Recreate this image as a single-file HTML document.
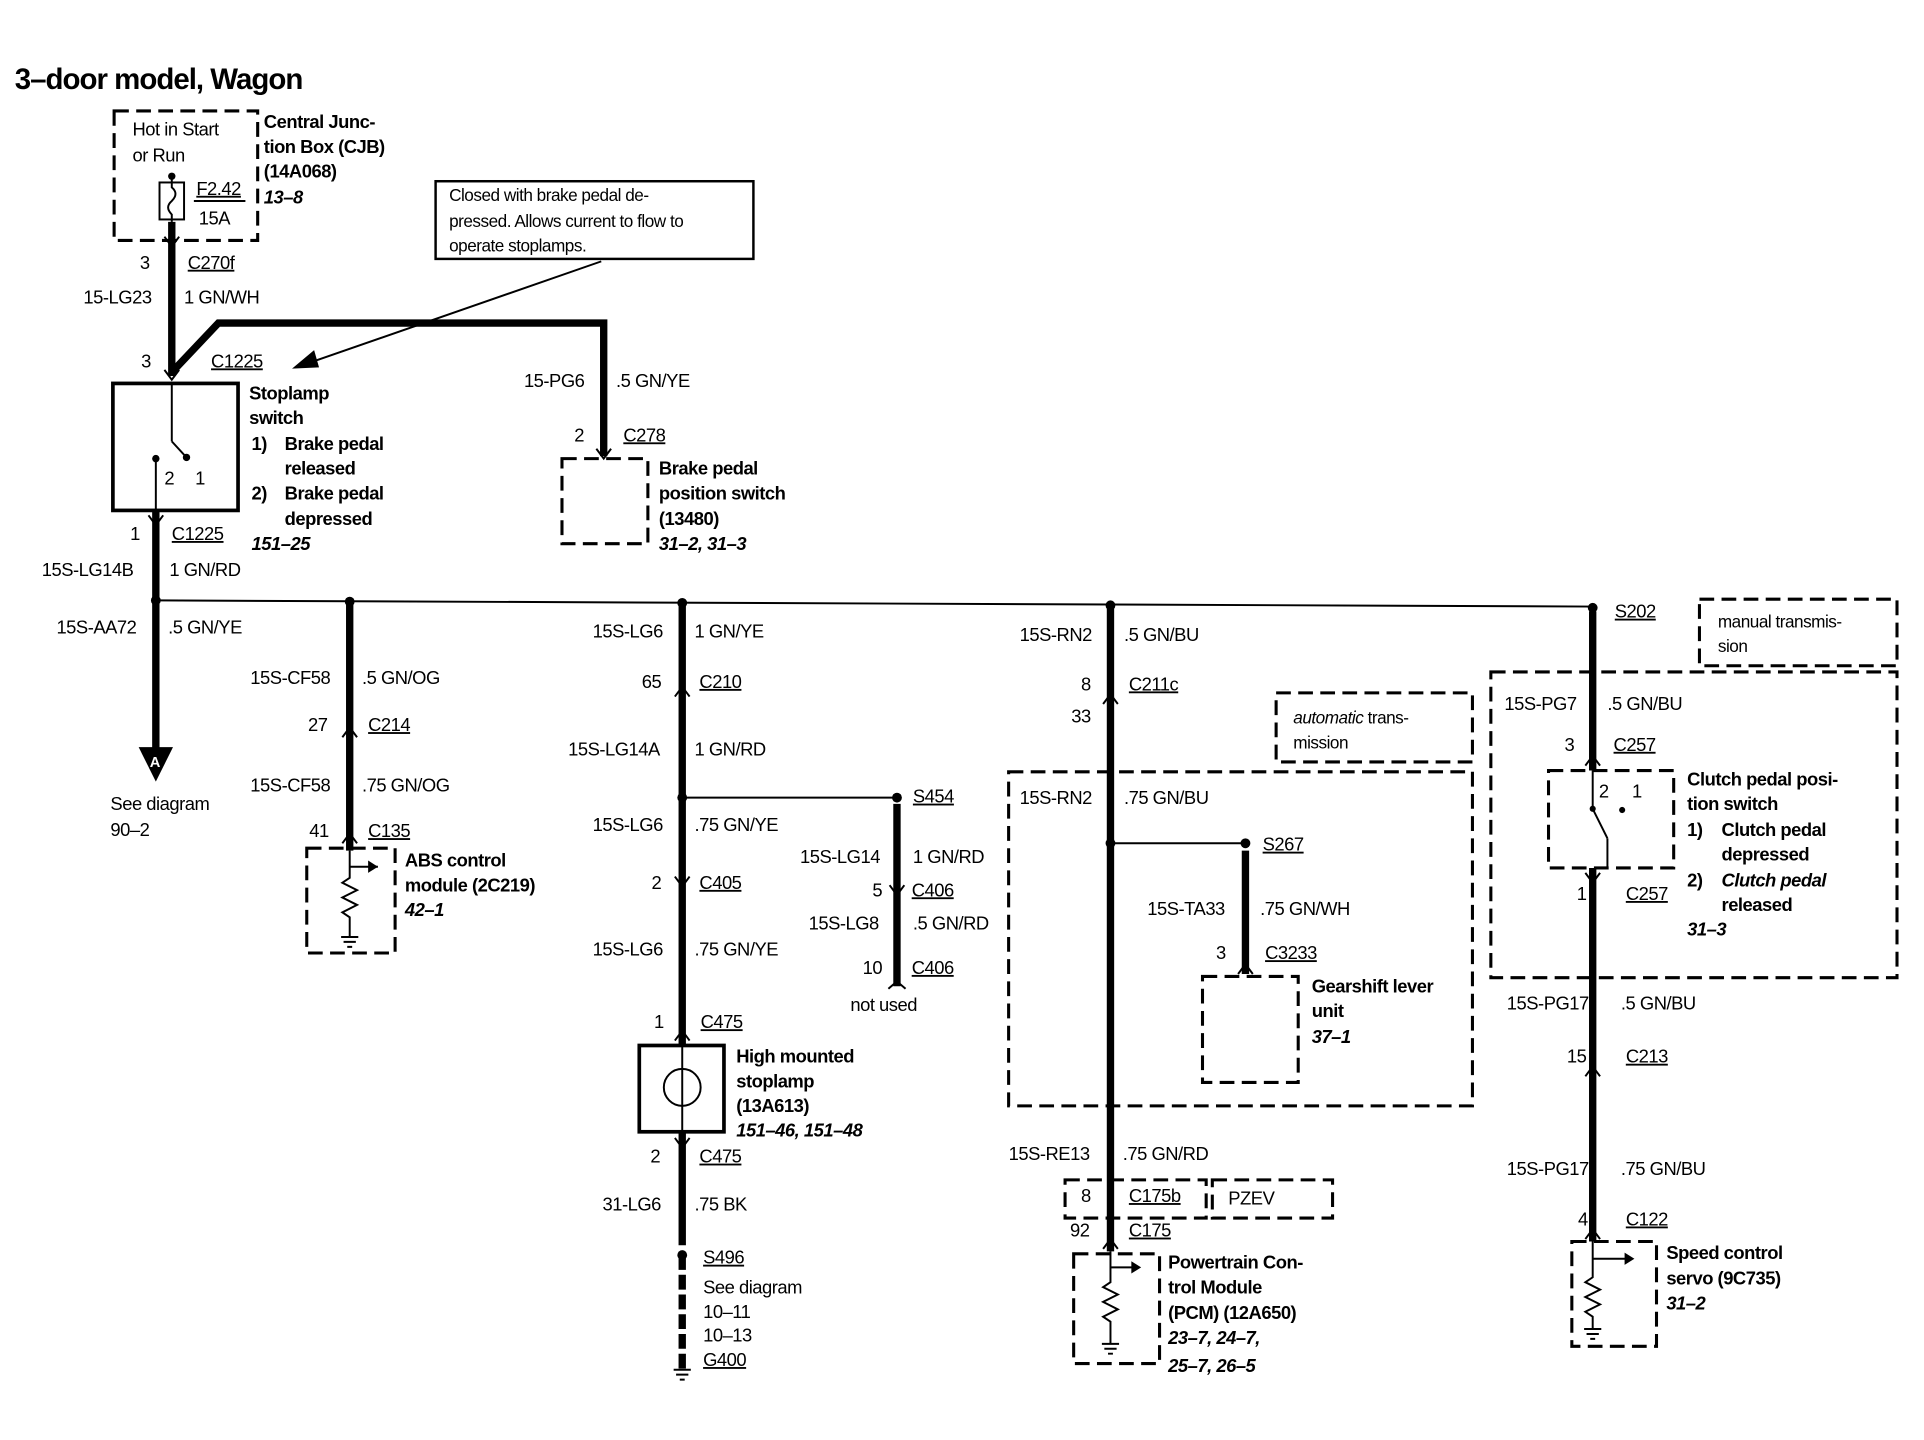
<!DOCTYPE html>
<html><head><meta charset="utf-8"><style>
html,body{margin:0;padding:0;background:#fff;}
svg{display:block}
text{font-family:"Liberation Sans",sans-serif;font-size:15px;fill:#000;letter-spacing:-0.4px}
.b{font-weight:bold}
.i{font-weight:bold;font-style:italic}
.u{text-decoration:underline}
.t{font-size:24px;font-weight:bold;letter-spacing:-0.8px}
.s{font-size:14px}
.w{stroke:#000;stroke-width:6;fill:none}
.n{stroke:#000;stroke-width:1.6;fill:none}
.d{stroke:#000;stroke-width:2.5;fill:none;stroke-dasharray:12 6}
</style></head><body>
<svg width="1924" height="1440" viewBox="0 0 1568 1168" preserveAspectRatio="none" xmlns="http://www.w3.org/2000/svg">
<text x="12" y="72" class="t">3–door model, Wagon</text>

<!-- CJB -->
<rect x="93" y="90" width="117" height="105" class="d"/>
<text x="108" y="110">Hot in Start</text>
<text x="108" y="131">or Run</text>
<circle cx="140" cy="143" r="3"/>
<rect x="130" y="148" width="20" height="30" class="n" stroke-width="2"/>
<path d="M140 143 L140 152 Q146 157 140 163 Q134 168 140 174 L140 180" class="n"/>
<text x="160" y="158" class="u">F2.42</text>
<line x1="158" y1="163" x2="200" y2="163" class="n"/>
<text x="162" y="182">15A</text>
<text x="215" y="104" class="b">Central Junc-</text>
<text x="215" y="124" class="b">tion Box (CJB)</text>
<text x="215" y="144" class="b">(14A068)</text>
<text x="215" y="165" class="i">13–8</text>

<path d="M140 180 L140 305" class="w"/>
<path d="M134 192 L140 200 L146 192" class="n" stroke-width="2.5"/>
<text x="114" y="218">3</text>
<text x="153" y="218" class="u">C270f</text>
<text x="68" y="246">15-LG23</text>
<text x="150" y="246">1 GN/WH</text>
<path d="M140 302 L178 262 L492 262 L492 370" class="w"/>
<path d="M486 364 L492 372 L498 364" class="n" stroke-width="2.5"/>

<!-- callout -->
<rect x="355" y="147" width="259" height="63" fill="#fff" stroke="#000" stroke-width="2"/>
<text x="366" y="163" class="s">Closed with brake pedal de-</text>
<text x="366" y="184" class="s">pressed. Allows current to flow to</text>
<text x="366" y="204" class="s">operate stoplamps.</text>
<line x1="490" y1="212" x2="250" y2="295" class="n"/>
<path d="M238 299 L256 284 L260 298 Z"/>

<text x="115" y="298">3</text>
<text x="172" y="298" class="u">C1225</text>
<path d="M134 300 L140 308 L146 300" class="n" stroke-width="2.5"/>

<!-- Stoplamp switch -->
<rect x="92" y="311" width="102" height="103" fill="none" stroke="#000" stroke-width="3"/>
<line x1="140" y1="311" x2="140" y2="358" class="n"/>
<line x1="140" y1="358" x2="152" y2="371" class="n"/>
<circle cx="152" cy="371" r="3"/>
<circle cx="127" cy="372" r="3"/>
<line x1="127" y1="372" x2="127" y2="414" class="n"/>
<text x="134" y="393">2</text>
<text x="159" y="393">1</text>
<text x="203" y="324" class="b">Stoplamp</text>
<text x="203" y="344" class="b">switch</text>
<text x="205" y="365" class="b">1)</text><text x="232" y="365" class="b">Brake pedal</text>
<text x="232" y="385" class="b">released</text>
<text x="205" y="405" class="b">2)</text><text x="232" y="405" class="b">Brake pedal</text>
<text x="232" y="426" class="b">depressed</text>
<text x="205" y="446" class="i">151–25</text>

<path d="M127 414 L127 608" class="w"/>
<path d="M121 418 L127 426 L133 418" class="n" stroke-width="2.5"/>
<text x="106" y="438">1</text>
<text x="140" y="438" class="u">C1225</text>
<text x="34" y="467">15S-LG14B</text>
<text x="138" y="467">1 GN/RD</text>
<text x="46" y="514">15S-AA72</text>
<text x="137" y="514">.5 GN/YE</text>
<path d="M113 606 L141 606 L127 634 Z"/>
<text x="122" y="622" style="fill:#fff;font-size:12px;font-weight:bold">A</text>
<text x="90" y="657">See diagram</text>
<text x="90" y="678">90–2</text>

<!-- bus -->
<line x1="127" y1="487" x2="1298" y2="492" class="n"/>
<circle cx="127" cy="487" r="4"/><circle cx="285" cy="488" r="4"/><circle cx="556" cy="489" r="4"/><circle cx="905" cy="491" r="4"/><circle cx="1298" cy="493" r="4"/>

<!-- Brake pedal position -->
<text x="427" y="314">15-PG6</text>
<text x="502" y="314">.5 GN/YE</text>
<text x="468" y="358">2</text>
<text x="508" y="358" class="u">C278</text>
<rect x="458" y="372" width="70" height="69" class="d"/>
<text x="537" y="385" class="b">Brake pedal</text>
<text x="537" y="405" class="b">position switch</text>
<text x="537" y="426" class="b">(13480)</text>
<text x="537" y="446" class="i">31–2, 31–3</text>

<!-- ABS column -->
<path d="M285 488 L285 690" class="w"/>
<text x="204" y="555">15S-CF58</text><text x="295" y="555">.5 GN/OG</text>
<text x="251" y="593">27</text><text x="300" y="593" class="u">C214</text>
<path d="M279 598 L285 590 L291 598" class="n" stroke-width="2.5"/>
<text x="204" y="642">15S-CF58</text><text x="295" y="642">.75 GN/OG</text>
<text x="252" y="679">41</text><text x="300" y="679" class="u">C135</text>
<path d="M279 684 L285 676 L291 684" class="n" stroke-width="2.5"/>
<rect x="250" y="688" width="72" height="85" class="d"/>
<path d="M285 690 L285 712 L279 716 L291 722 L279 728 L291 734 L279 740 L285 744 L285 760" class="n"/>
<path d="M278 760 H292 M280 764 H290 M283 768 H287" class="n"/>
<path d="M285 703 H308" class="n"/><path d="M300 698 L308 703 L300 708Z"/>
<text x="330" y="703" class="b">ABS control</text>
<text x="330" y="723" class="b">module (2C219)</text>
<text x="330" y="743" class="i">42–1</text>

<!-- HMSL column -->
<path d="M556 489 L556 848 M556 918 L556 1010" class="w"/>
<path d="M556 1018 L556 1110" class="w" stroke-dasharray="12 4"/>
<text x="483" y="517">15S-LG6</text><text x="566" y="517">1 GN/YE</text>
<text x="523" y="558">65</text><text x="570" y="558" class="u">C210</text>
<path d="M550 565 L556 557 L562 565" class="n" stroke-width="2.5"/>
<text x="463" y="613">15S-LG14A</text><text x="566" y="613">1 GN/RD</text>
<circle cx="556" cy="647" r="4"/>
<line x1="556" y1="647" x2="731" y2="647" class="n"/>
<circle cx="731" cy="647" r="4"/>
<text x="483" y="674">15S-LG6</text><text x="566" y="674">.75 GN/YE</text>
<text x="531" y="721">2</text><text x="570" y="721" class="u">C405</text>
<path d="M550 711 L556 719 L562 711" class="n" stroke-width="2.5"/>
<text x="483" y="775">15S-LG6</text><text x="566" y="775">.75 GN/YE</text>
<text x="533" y="834">1</text><text x="571" y="834" class="u">C475</text>
<path d="M550 844 L556 836 L562 844" class="n" stroke-width="2.5"/>
<rect x="521" y="848" width="69" height="70" fill="none" stroke="#000" stroke-width="3"/>
<line x1="556" y1="848" x2="556" y2="918" class="n"/>
<circle cx="556" cy="882" r="15" class="n" stroke-width="2"/>
<text x="600" y="862" class="b">High mounted</text>
<text x="600" y="882" class="b">stoplamp</text>
<text x="600" y="902" class="b">(13A613)</text>
<text x="600" y="922" class="i">151–46, 151–48</text>
<text x="530" y="943">2</text><text x="570" y="943" class="u">C475</text>
<path d="M550 923 L556 931 L562 923" class="n" stroke-width="2.5"/>
<text x="491" y="982">31-LG6</text><text x="566" y="982">.75 BK</text>
<circle cx="556" cy="1018" r="4"/>
<text x="573" y="1025" class="u">S496</text>
<text x="573" y="1049">See diagram</text>
<text x="573" y="1069">10–11</text>
<text x="573" y="1088">10–13</text>
<text x="573" y="1108" class="u">G400</text>
<path d="M549 1111 H563 M551 1115 H561 M554 1119 H558" class="n"/>

<!-- S454 -->
<path d="M731 652 L731 800" class="w"/>
<text x="744" y="651" class="u">S454</text>
<text x="652" y="700">15S-LG14</text><text x="744" y="700">1 GN/RD</text>
<text x="711" y="727">5</text><text x="743" y="727" class="u">C406</text>
<path d="M725 718 L731 726 L737 718" class="n" stroke-width="2.5"/>
<text x="659" y="754">15S-LG8</text><text x="744" y="754">.5 GN/RD</text>
<text x="703" y="790">10</text><text x="743" y="790" class="u">C406</text>
<path d="M724 802 L731 796 L738 802" class="n" stroke-width="2.5"/>
<text x="693" y="820">not used</text>

<!-- PCM column -->
<path d="M905 491 L905 1015" class="w"/>
<text x="831" y="520">15S-RN2</text><text x="916" y="520">.5 GN/BU</text>
<text x="881" y="560">8</text><text x="920" y="560" class="u">C211c</text>
<path d="M899 571 L905 563 L911 571" class="n" stroke-width="2.5"/>
<text x="873" y="586">33</text>
<rect x="1040" y="562" width="160" height="56" class="d"/>
<text x="1054" y="587" class="s"><tspan font-style="italic">automatic</tspan> trans-</text>
<text x="1054" y="607" class="s">mission</text>
<rect x="822" y="626" width="378" height="271" class="d"/>
<text x="831" y="652">15S-RN2</text><text x="916" y="652">.75 GN/BU</text>
<circle cx="905" cy="684" r="4"/>
<line x1="905" y1="684" x2="1015" y2="684" class="n"/>
<circle cx="1015" cy="684" r="4"/>
<text x="1029" y="690" class="u">S267</text>
<path d="M1015 690 L1015 790" class="w"/>
<text x="935" y="742">15S-TA33</text><text x="1027" y="742">.75 GN/WH</text>
<text x="991" y="778">3</text><text x="1031" y="778" class="u">C3233</text>
<path d="M1009 790 L1015 782 L1021 790" class="n" stroke-width="2.5"/>
<rect x="980" y="792" width="78" height="86" class="d"/>
<text x="1069" y="805" class="b">Gearshift lever</text>
<text x="1069" y="825" class="b">unit</text>
<text x="1069" y="846" class="i">37–1</text>
<text x="822" y="941">15S-RE13</text><text x="915" y="941">.75 GN/RD</text>
<rect x="868" y="957" width="115" height="31" class="d"/>
<text x="881" y="975">8</text><text x="920" y="975" class="u">C175b</text>
<rect x="988" y="957" width="98" height="31" class="d"/>
<text x="1001" y="977">PZEV</text>
<text x="872" y="1003">92</text><text x="920" y="1003" class="u">C175</text>
<path d="M899 1013 L905 1005 L911 1013" class="n" stroke-width="2.5"/>
<rect x="875" y="1017" width="70" height="89" class="d"/>
<path d="M905 1015 L905 1040 L899 1044 L911 1050 L899 1056 L911 1062 L899 1068 L905 1072 L905 1090" class="n"/>
<path d="M898 1090 H912 M900 1094 H910 M903 1098 H907" class="n"/>
<path d="M905 1028 H928" class="n"/><path d="M922 1023 L930 1028 L922 1033Z"/>
<text x="952" y="1029" class="b">Powertrain Con-</text>
<text x="952" y="1049" class="b">trol Module</text>
<text x="952" y="1070" class="b">(PCM) (12A650)</text>
<text x="952" y="1090" class="i">23–7, 24–7,</text>
<text x="952" y="1113" class="i">25–7, 26–5</text>

<!-- Clutch/servo column -->
<path d="M1298 496 L1298 625 M1298 704 L1298 1007" class="w"/>
<text x="1316" y="501" class="u">S202</text>
<rect x="1385" y="486" width="161" height="54" class="d"/>
<text x="1400" y="509" class="s">manual transmis-</text>
<text x="1400" y="529" class="s">sion</text>
<rect x="1215" y="545" width="331" height="248" class="d"/>
<text x="1226" y="576">15S-PG7</text><text x="1310" y="576">.5 GN/BU</text>
<text x="1275" y="609">3</text><text x="1315" y="609" class="u">C257</text>
<path d="M1292 621 L1298 613 L1304 621" class="n" stroke-width="2.5"/>
<rect x="1262" y="625" width="102" height="79" class="d"/>
<line x1="1298" y1="625" x2="1298" y2="656" class="n"/>
<line x1="1298" y1="656" x2="1310" y2="680" class="n"/>
<line x1="1310" y1="680" x2="1310" y2="704" class="n"/>
<circle cx="1298" cy="656" r="2.5"/>
<circle cx="1322" cy="657" r="2.5"/>
<text x="1303" y="647">2</text><text x="1330" y="647">1</text>
<text x="1375" y="637" class="b">Clutch pedal posi-</text>
<text x="1375" y="657" class="b">tion switch</text>
<text x="1375" y="678" class="b">1)</text><text x="1403" y="678" class="b">Clutch pedal</text>
<text x="1403" y="698" class="b">depressed</text>
<text x="1375" y="719" class="b">2)</text><text x="1403" y="719" class="i">Clutch pedal</text>
<text x="1403" y="739" class="b">released</text>
<text x="1375" y="759" class="i">31–3</text>
<text x="1285" y="730">1</text><text x="1325" y="730" class="u">C257</text>
<path d="M1292 708 L1298 716 L1304 708" class="n" stroke-width="2.5"/>
<text x="1228" y="819">15S-PG17</text><text x="1321" y="819">.5 GN/BU</text>
<text x="1277" y="862">15</text><text x="1325" y="862" class="u">C213</text>
<path d="M1292 873 L1298 865 L1304 873" class="n" stroke-width="2.5"/>
<text x="1228" y="953">15S-PG17</text><text x="1321" y="953">.75 GN/BU</text>
<text x="1286" y="994">4</text><text x="1325" y="994" class="u">C122</text>
<path d="M1292 1005 L1298 997 L1304 1005" class="n" stroke-width="2.5"/>
<rect x="1281" y="1007" width="69" height="85" class="d"/>
<path d="M1298 1007 L1298 1036 L1292 1040 L1304 1046 L1292 1052 L1304 1058 L1292 1064 L1298 1068 L1298 1078" class="n"/>
<path d="M1291 1078 H1305 M1293 1082 H1303 M1296 1086 H1300" class="n"/>
<path d="M1298 1021 H1330" class="n"/><path d="M1324 1016 L1332 1021 L1324 1026Z"/>
<text x="1358" y="1021" class="b">Speed control</text>
<text x="1358" y="1042" class="b">servo (9C735)</text>
<text x="1358" y="1062" class="i">31–2</text>
</svg>
</body></html>
